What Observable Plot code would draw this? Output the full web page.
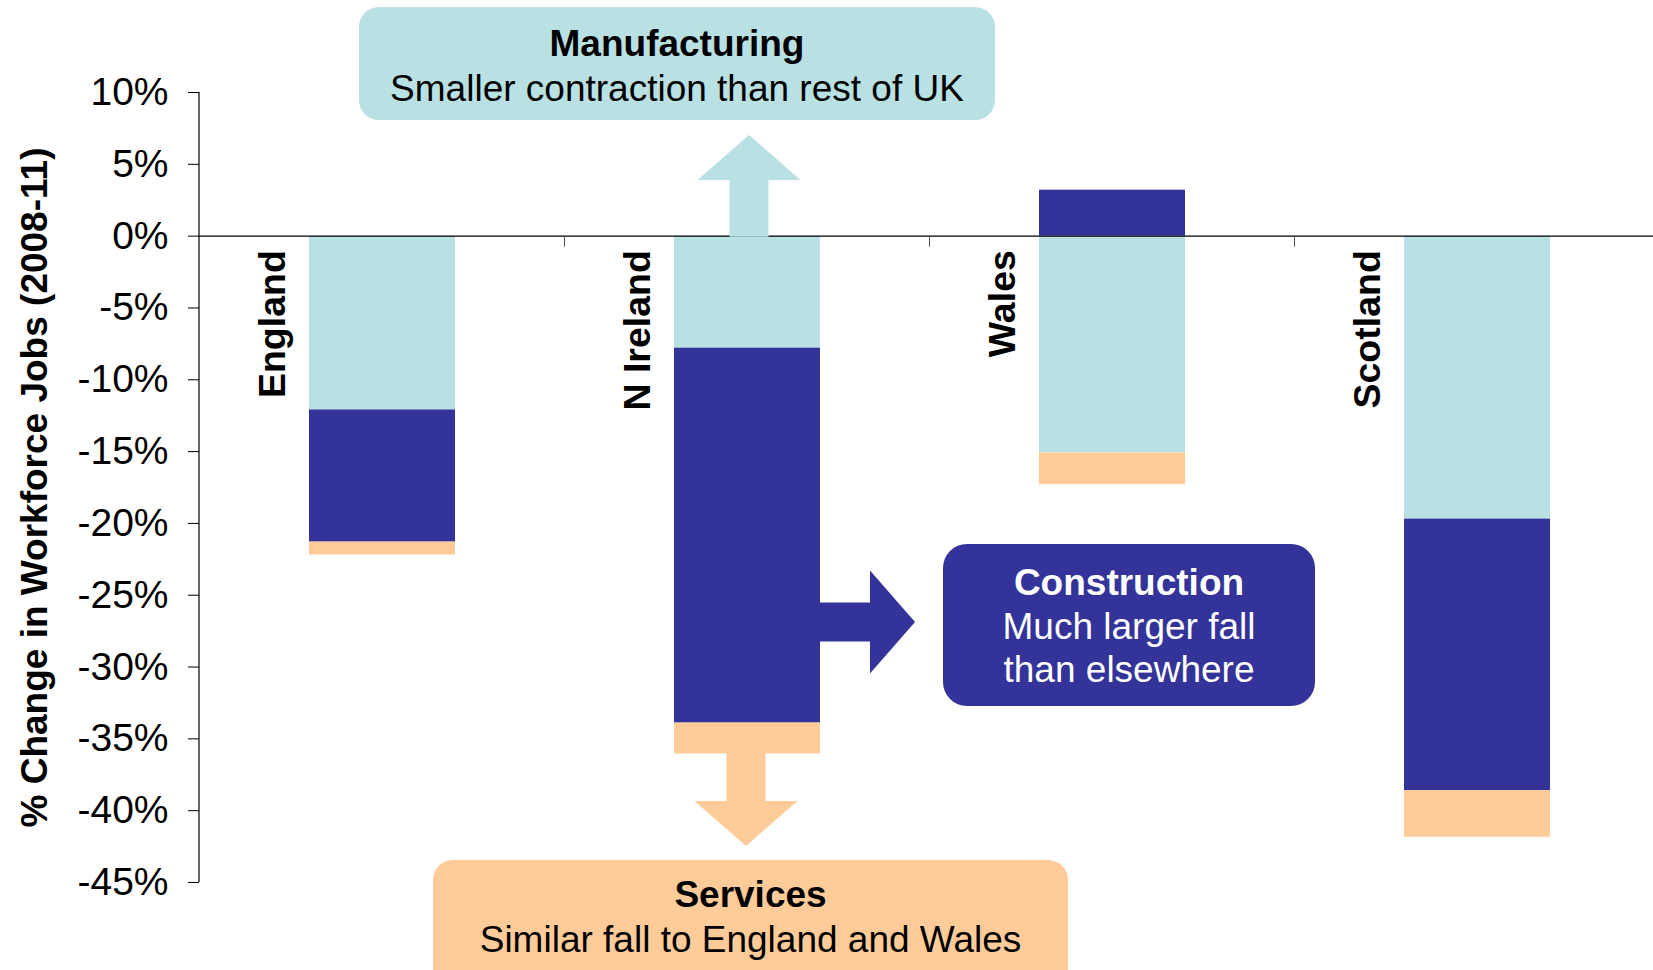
<!DOCTYPE html>
<html>
<head>
<meta charset="utf-8">
<script src="https://cdn.jsdelivr.net/npm/d3@7"></script>
<script src="https://cdn.jsdelivr.net/npm/@observablehq/plot@0.6"></script>
<style>
html, body { margin: 0; padding: 0; background: #fff; }
#chart { width: 1653px; height: 970px; overflow: hidden; }
</style>
</head>
<body>
<div id="chart"></div>
<script>
// ---------- data ----------
const regions = ["England", "N Ireland", "Wales", "Scotland"];
const sectors = ["Manufacturing", "Construction", "Services"];
const manufacturing = [-12.1, -7.8, -15.1, -19.7];
const construction = [-9.2, -26.1, 3.2, -18.9];
const services = [-0.9, -2.15, -2.2, -3.25];
const yTicks = [10, 5, 0, -5, -10, -15, -20, -25, -30, -35, -40, -45];
const yTitle = "% Change in Workforce Jobs (2008-11)";
const sectorColors = ["#b9e0e3", "#333399", "#ffcc99"];

const noteTitles = ["Manufacturing", "Construction", "Services"];
const noteLines = [
  ["Smaller contraction than rest of UK"],
  ["Much larger fall", "than elsewhere"],
  ["Similar fall to England and Wales"]
];
const focusRegion = "N Ireland";

// ---------- table for Plot ----------
const seriesValues = [manufacturing, construction, services];
const rows = regions.flatMap((r, i) =>
  sectors.map((s, j) => ({region: r, sector: s, value: seriesValues[j][i]}))
);

const FONT = '"Liberation Sans", Arial, Helvetica, sans-serif';

const chart = Plot.plot({
  width: 1653,
  height: 970,
  marginLeft: 199,
  marginRight: 0,
  marginTop: 92,
  marginBottom: 88,
  style: {fontFamily: FONT, fontSize: "37px", background: "white", color: "black", overflow: "visible"},
  x: {domain: regions, range: [199, 1660], paddingInner: 0.6, paddingOuter: 0.3, axis: null},
  y: {domain: [-45, 10], axis: null},
  color: {domain: sectors, range: sectorColors},
  marks: [
    Plot.barY(rows, {x: "region", y: "value", fill: "sector"}),
    Plot.ruleY([0], {stroke: "#000", strokeWidth: 1.2}),
    Plot.axisY({
      ticks: yTicks, tickSize: 11, tickPadding: 20,
      tickFormat: d => `${d}%`, fontSize: 39, label: null
    }),
    Plot.text(regions, {
      x: d => d, y: 0, rotate: -90, textAnchor: "end",
      dx: -110, dy: 14, fontWeight: "bold", fontSize: 37.5, fill: "#000"
    }),
    Plot.text([yTitle], {
      frameAnchor: "left", textAnchor: "middle", rotate: -90, dx: -164,
      fontWeight: "bold", fontSize: 37, fill: "#000"
    })
  ]
});

document.getElementById("chart").appendChild(chart);

// ---------- overlay: axis line, category ticks, annotations ----------
const svg = d3.select(chart);
const xd = chart.scale("x"), yd = chart.scale("y");
const X = d3.scaleBand()
  .domain(xd.domain).range(xd.range)
  .paddingInner(xd.paddingInner ?? 0.6)
  .paddingOuter(xd.paddingOuter ?? 0.3)
  .align(xd.align ?? 0.5)
  .round(!!xd.round);
const Y = d3.scaleLinear().domain(yd.domain).range(yd.range);

const g = svg.append("g");

// y axis line
g.append("line")
  .attr("x1", xd.range[0]).attr("x2", xd.range[0])
  .attr("y1", Y(d3.max(yTicks))).attr("y2", Y(d3.min(yTicks)))
  .attr("stroke", "#000").attr("stroke-width", 1.2);

// category boundary ticks on zero line
regions.slice(1).forEach(r => {
  const bx = X(r) - X.step() * X.paddingInner() / 2;
  g.append("line")
    .attr("x1", bx).attr("x2", bx)
    .attr("y1", Y(0)).attr("y2", Y(0) + 11)
    .attr("stroke", "#555").attr("stroke-width", 1);
});

// annotation layout (pixels)
const boxes = [
  {x1: 359, x2: 995, y1: 7, y2: 120, r: 20, ink: "#000", base: 56, lh: 45},
  {x1: 943, x2: 1315, y1: 544, y2: 706, r: 24, ink: "#fff", base: 595, lh: 43.5},
  {x1: 433, x2: 1068, y1: 860, y2: 1010, r: 20, ink: "#000", base: 907, lh: 45}
];

function arrowPath(x0, y0, x1, y1, shaftHalf = 19.5, headHalf = 51.5, headLen = 45) {
  const dx = x1 - x0, dy = y1 - y0, L = Math.hypot(dx, dy);
  const ux = dx / L, uy = dy / L, nx = -uy, ny = ux;
  const bx = x1 - ux * headLen, by = y1 - uy * headLen;
  const pts = [
    [x0 + nx * shaftHalf, y0 + ny * shaftHalf],
    [bx + nx * shaftHalf, by + ny * shaftHalf],
    [bx + nx * headHalf, by + ny * headHalf],
    [x1, y1],
    [bx - nx * headHalf, by - ny * headHalf],
    [bx - nx * shaftHalf, by - ny * shaftHalf],
    [x0 - nx * shaftHalf, y0 - ny * shaftHalf]
  ];
  return "M" + pts.map(p => p.join(",")).join("L") + "Z";
}

const fi = regions.indexOf(focusRegion);
const cx = X(focusRegion) + X.bandwidth() / 2;
const negBottom = d3.sum(seriesValues.map(s => Math.min(0, s[fi])));

// up arrow (manufacturing)
g.append("path")
  .attr("d", arrowPath(cx + 2, Y(0) + 1, cx + 2, boxes[0].y2 + 15))
  .attr("fill", sectorColors[0]);
// down arrow (services)
g.append("path")
  .attr("d", arrowPath(cx - 1, Y(negBottom) - 1, cx - 1, boxes[2].y1 - 14))
  .attr("fill", sectorColors[2]);
// right arrow (construction)
const ay = (boxes[1].y1 + boxes[1].y2) / 2 - 3;
g.append("path")
  .attr("d", arrowPath(X(focusRegion) + X.bandwidth() - 1, ay, boxes[1].x1 - 28, ay))
  .attr("fill", sectorColors[1]);

// boxes and text
boxes.forEach((b, i) => {
  g.append("rect")
    .attr("x", b.x1).attr("y", b.y1)
    .attr("width", b.x2 - b.x1).attr("height", b.y2 - b.y1)
    .attr("rx", b.r).attr("ry", b.r)
    .attr("fill", sectorColors[i]);
  const tx = (b.x1 + b.x2) / 2;
  g.append("text")
    .attr("x", tx).attr("y", b.base)
    .attr("text-anchor", "middle")
    .attr("font-family", FONT).attr("font-size", 37).attr("font-weight", "bold")
    .attr("fill", b.ink)
    .text(noteTitles[i]);
  noteLines[i].forEach((line, k) => {
    g.append("text")
      .attr("x", tx).attr("y", b.base + b.lh * (k + 1))
      .attr("text-anchor", "middle")
      .attr("font-family", FONT).attr("font-size", 37)
      .attr("fill", b.ink)
      .text(line);
  });
});
</script>
</body>
</html>
